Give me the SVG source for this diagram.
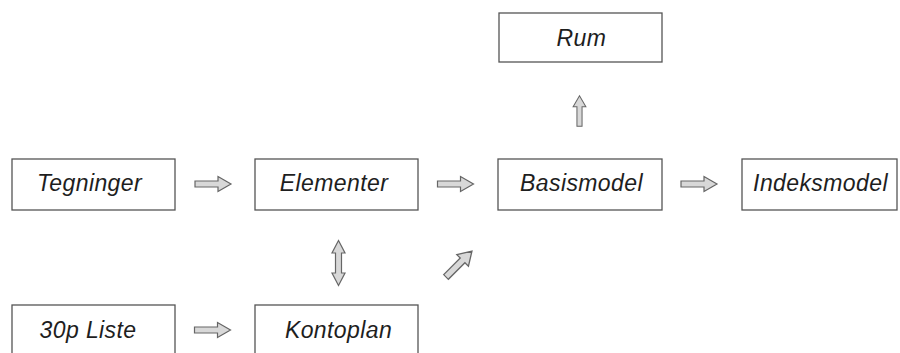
<svg xmlns="http://www.w3.org/2000/svg" xmlns:xlink="http://www.w3.org/1999/xlink" width="900" height="353" viewBox="0 0 900 353">
<style>
.box{fill:#fff;stroke:#555;stroke-width:1.3}
.lbl{font-family:"Liberation Sans",Arial,sans-serif;font-style:italic;font-size:23px;letter-spacing:0.4px;fill:#1e1e1e;text-anchor:middle}
.arr{fill:#d8d8d8;stroke:#666;stroke-width:1.2;stroke-linejoin:miter}
</style>
<defs>
<path id="ra" d="M-18,-3 L5,-3 L5,-7.5 L18,0 L5,7.5 L5,3 L-18,3 Z"/>
<path id="da" d="M0,-22.5 L6.5,-10 L3,-10 L3,10 L6.5,10 L0,22.5 L-6.5,10 L-3,10 L-3,-10 L-6.5,-10 Z"/>
</defs>
<rect width="900" height="353" fill="#fff"/>
<g id="rum"><rect class="box" x="499" y="13" width="163" height="49"/><text class="lbl" x="581.5" y="46">Rum</text></g>
<g id="tegninger"><rect class="box" x="12" y="159" width="163" height="51"/><text class="lbl" x="89.5" y="191">Tegninger</text></g>
<g id="elementer"><rect class="box" x="255" y="159" width="163" height="51"/><text class="lbl" x="334" y="191">Elementer</text></g>
<g id="basismodel"><rect class="box" x="498" y="159" width="164" height="51"/><text class="lbl" x="581.5" y="191">Basismodel</text></g>
<g id="indeksmodel"><rect class="box" x="742" y="159" width="155" height="51"/><text class="lbl" x="820.5" y="191">Indeksmodel</text></g>
<g id="liste30p"><rect class="box" x="12" y="305" width="163" height="60"/><text class="lbl" x="88" y="338">30p Liste</text></g>
<g id="kontoplan"><rect class="box" x="255" y="305" width="163" height="60"/><text class="lbl" x="338.5" y="338">Kontoplan</text></g>
<g id="connectors">
<use xlink:href="#ra" class="arr" transform="translate(213,184)"/>
<use xlink:href="#ra" class="arr" transform="translate(455.5,184)"/>
<use xlink:href="#ra" class="arr" transform="translate(699,184)"/>
<use xlink:href="#ra" class="arr" transform="translate(212.5,330)"/>
<use xlink:href="#ra" class="arr" transform="translate(579.5,111) rotate(-90) scale(0.85,0.85)"/>
<use xlink:href="#da" class="arr" transform="translate(338.5,263)"/>
<use xlink:href="#ra" class="arr" transform="translate(459,264) rotate(-45) scale(1.02,1.1)"/>
</g>
</svg>
